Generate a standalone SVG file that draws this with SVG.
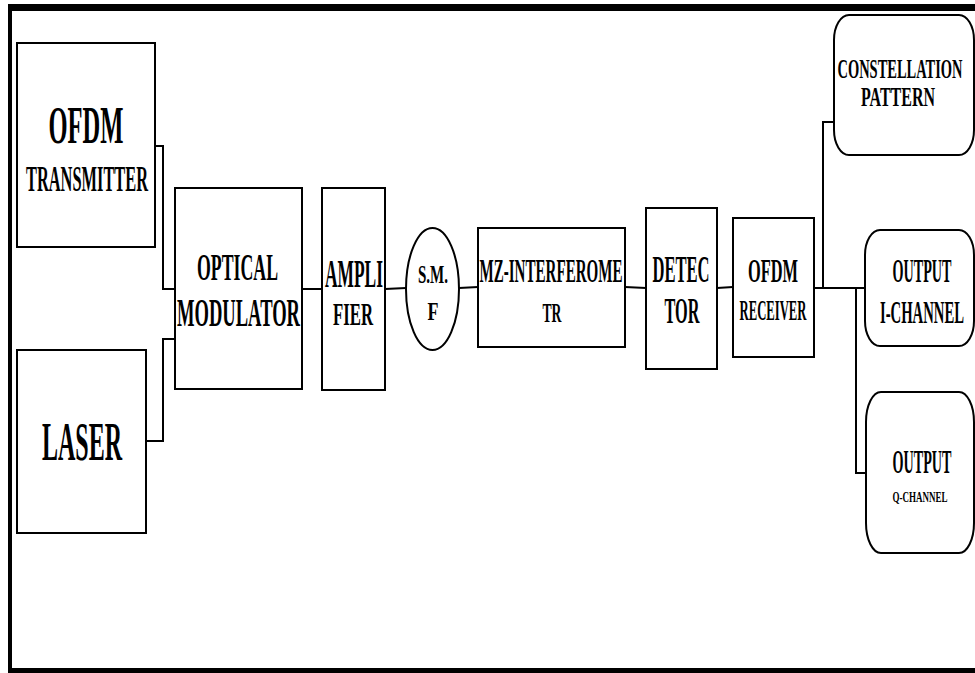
<svg xmlns="http://www.w3.org/2000/svg" width="975" height="673" viewBox="0 0 975 673">
<style>
.b{fill:#fff;stroke:#000;stroke-width:2}
.c{fill:none;stroke:#000;stroke-width:2}
.f{fill:none;stroke:#000}
text{font-family:"Liberation Serif","Times New Roman",serif;font-weight:bold;fill:#000;text-anchor:middle}
</style>
<rect width="975" height="673" fill="#fff"/>
<g id="frame">
<line class="f" x1="8" y1="7.5" x2="975" y2="7.5" stroke-width="7"/>
<line class="f" x1="10" y1="4" x2="10" y2="673" stroke-width="4"/>
<line class="f" x1="8" y1="670.5" x2="975" y2="670.5" stroke-width="5"/>
</g>
<g id="connectors">
<path class="c" d="M155,146H163V289H175"/>
<path class="c" d="M146,441H163V339H175"/>
<path class="c" d="M302,289H322"/>
<path class="c" d="M385,289L406,288"/>
<path class="c" d="M459,288L478,287"/>
<path class="c" d="M625,287L646,288"/>
<path class="c" d="M717,288L733,287"/>
<path class="c" d="M814,288H865"/>
<path class="c" d="M823,288V122H834"/>
<path class="c" d="M856,288V473H866"/>
</g>
<g id="ofdm-transmitter">
<rect class="b" x="17" y="43" width="138" height="204"/>
<text x="86" y="143" font-size="52" textLength="75" lengthAdjust="spacingAndGlyphs">OFDM</text>
<text x="87" y="191" font-size="35" textLength="122" lengthAdjust="spacingAndGlyphs">TRANSMITTER</text>
</g>
<g id="laser">
<rect class="b" x="17" y="350" width="129" height="183"/>
<text x="82" y="460" font-size="55" textLength="80" lengthAdjust="spacingAndGlyphs">LASER</text>
</g>
<g id="optical-modulator">
<rect class="b" x="175" y="188" width="127" height="201"/>
<text x="237.5" y="280" font-size="38" textLength="81" lengthAdjust="spacingAndGlyphs">OPTICAL</text>
<text x="238.5" y="326" font-size="40" textLength="123" lengthAdjust="spacingAndGlyphs">MODULATOR</text>
</g>
<g id="amplifier">
<rect class="b" x="322" y="188" width="63" height="202"/>
<text x="354" y="287" font-size="40" textLength="58" lengthAdjust="spacingAndGlyphs">AMPLI</text>
<text x="353" y="325" font-size="32" textLength="40" lengthAdjust="spacingAndGlyphs">FIER</text>
</g>
<g id="smf">
<ellipse class="b" cx="432.5" cy="289" rx="26.5" ry="61"/>
<text x="433" y="283" font-size="26" textLength="30" lengthAdjust="spacingAndGlyphs">S.M.</text>
<text x="433" y="320" font-size="26" textLength="11" lengthAdjust="spacingAndGlyphs">F</text>
</g>
<g id="mz-interferometer">
<rect class="b" x="478" y="228" width="147" height="119"/>
<text x="551" y="282" font-size="33" textLength="143" lengthAdjust="spacingAndGlyphs">MZ-INTERFEROME</text>
<text x="552" y="322" font-size="27" textLength="19" lengthAdjust="spacingAndGlyphs">TR</text>
</g>
<g id="detector">
<rect class="b" x="646" y="208" width="71" height="161"/>
<text x="681" y="282" font-size="37" textLength="57" lengthAdjust="spacingAndGlyphs">DETEC</text>
<text x="682" y="323" font-size="35" textLength="35" lengthAdjust="spacingAndGlyphs">TOR</text>
</g>
<g id="ofdm-receiver">
<rect class="b" x="733" y="218" width="81" height="139"/>
<text x="773" y="282" font-size="33" textLength="50" lengthAdjust="spacingAndGlyphs">OFDM</text>
<text x="773" y="320" font-size="30" textLength="67" lengthAdjust="spacingAndGlyphs">RECEIVER</text>
</g>
<g id="constellation-pattern">
<rect class="b" x="834" y="15" width="140" height="140" rx="15" ry="25"/>
<text x="900" y="78" font-size="27" textLength="125" lengthAdjust="spacingAndGlyphs">CONSTELLATION</text>
<text x="898" y="106" font-size="27" textLength="74" lengthAdjust="spacingAndGlyphs">PATTERN</text>
</g>
<g id="output-i">
<rect class="b" x="865" y="230" width="109" height="116" rx="15" ry="25"/>
<text x="922" y="282" font-size="33" textLength="59" lengthAdjust="spacingAndGlyphs">OUTPUT</text>
<text x="922" y="323" font-size="31" textLength="84" lengthAdjust="spacingAndGlyphs">I-CHANNEL</text>
</g>
<g id="output-q">
<rect class="b" x="866" y="392" width="108" height="161" rx="15" ry="30"/>
<text x="922" y="473" font-size="34" textLength="59" lengthAdjust="spacingAndGlyphs">OUTPUT</text>
<text x="920" y="502" font-size="15" textLength="55" lengthAdjust="spacingAndGlyphs">Q-CHANNEL</text>
</g>
</svg>
